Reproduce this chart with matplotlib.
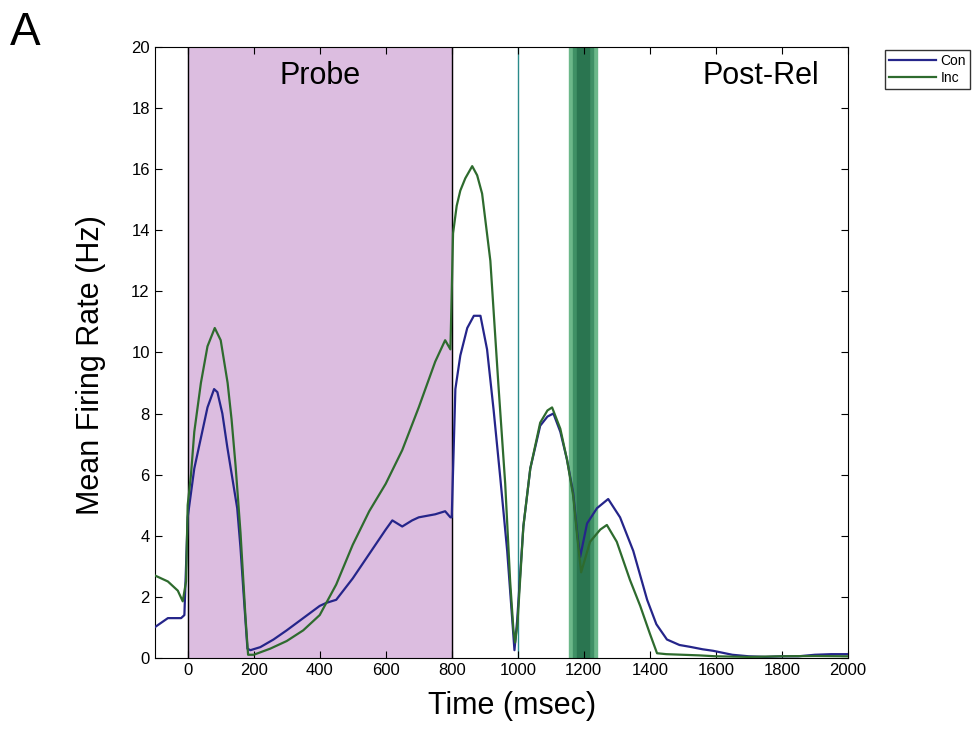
import numpy as np
import matplotlib
matplotlib.use("Agg")
import matplotlib.pyplot as plt

plt.rcParams['font.family'] = ['Liberation Sans', 'DejaVu Sans']

# ---- data ----
t_con = [-100, -60, -20, -10, 0, 10, 20, 40, 60, 80, 90, 105, 120, 135, 150, 160, 170, 181, 190,
         220, 260, 300, 350, 400, 420, 450, 500, 550, 600, 620, 650, 680, 700, 750, 780,
         796, 800, 811, 826, 847, 867, 887, 907, 927, 947, 968, 983, 990, 998, 1017,
         1038, 1068, 1090, 1108, 1129, 1149, 1168, 1180, 1189, 1210, 1240, 1274,
         1310, 1350, 1392, 1420, 1452, 1490, 1522, 1560, 1592, 1650, 1700, 1750,
         1800, 1850, 1900, 1950, 2000]
con = [1.0, 1.3, 1.3, 1.4, 4.6, 5.4, 6.2, 7.2, 8.2, 8.8, 8.7, 8.0, 6.9, 5.9, 4.9, 3.6, 2.0, 0.3, 0.25,
       0.35, 0.6, 0.9, 1.3, 1.7, 1.8, 1.9, 2.6, 3.4, 4.2, 4.5, 4.3, 4.5, 4.6, 4.7, 4.8,
       4.6, 4.6, 8.8, 9.9, 10.8, 11.2, 11.2, 10.1, 8.1, 5.9, 3.5, 1.3, 0.25, 1.2, 4.3,
       6.2, 7.6, 7.9, 8.0, 7.4, 6.5, 5.4, 4.1, 3.3, 4.4, 4.9, 5.2,
       4.6, 3.5, 1.9, 1.1, 0.6, 0.42, 0.36, 0.28, 0.23, 0.1, 0.05, 0.03,
       0.05, 0.05, 0.1, 0.12, 0.12]

t_inc = [-100, -60, -30, -15, -5, 0, 10, 20, 40, 60, 82, 100, 121, 133, 145, 160, 175, 183, 200,
         250, 300, 350, 400, 420, 450, 500, 550, 600, 650, 700, 750, 780, 796, 804,
         815, 826, 841, 862, 877, 892, 917, 941, 962, 977, 987, 992, 999, 1017, 1038, 1068,
         1090, 1104, 1129, 1149, 1168, 1180, 1192, 1219, 1250, 1270, 1300, 1340,
         1371, 1400, 1422, 1450, 1500, 1550, 1600, 1700, 1800, 1900, 2000]
inc = [2.7, 2.5, 2.2, 1.85, 2.5, 5.0, 6.0, 7.4, 9.0, 10.2, 10.8, 10.4, 9.0, 7.8, 6.3, 4.1, 1.35, 0.1, 0.1,
       0.3, 0.55, 0.9, 1.4, 1.8, 2.4, 3.7, 4.8, 5.7, 6.8, 8.2, 9.7, 10.4, 10.1, 13.9,
       14.8, 15.3, 15.7, 16.1, 15.8, 15.2, 13.0, 9.0, 5.7, 2.5, 0.9, 0.5, 1.1, 4.3, 6.2, 7.7,
       8.1, 8.2, 7.5, 6.5, 5.3, 4.0, 2.8, 3.8, 4.2, 4.35, 3.8, 2.55,
       1.7, 0.8, 0.15, 0.12, 0.1, 0.08, 0.05, 0.03, 0.05, 0.06, 0.05]

probe_span = (0, 800)
marker_t = 1000
band_span = (1155, 1240)
xticks = list(range(0, 2001, 200))
yticks = list(range(0, 21, 2))

fig = plt.figure(figsize=(9.79, 7.35), dpi=100)
ax = fig.add_axes([0.158, 0.105, 0.708, 0.831])

ax.axvspan(*probe_span, color='#dcbde0', zorder=0)
ax.axvline(probe_span[0], color='k', lw=1, zorder=1)
ax.axvline(probe_span[1], color='k', lw=1, zorder=1)
ax.axvline(marker_t, color='#2a8a8a', lw=1, zorder=1)
ax.axvspan(*band_span, color='#6cb88a', zorder=0)
ax.axvspan(band_span[0] + 12, band_span[1] - 12, color='#3f9065', zorder=0)
ax.axvspan(band_span[0] + 25, band_span[1] - 25, color='#2a7550', zorder=0)

ax.plot(t_con, con, color='#25258a', lw=1.6, label='Con', zorder=3)
ax.plot(t_inc, inc, color='#2e6b2e', lw=1.6, label='Inc', zorder=3)

ax.set_xlim(-100, 2000)
ax.set_ylim(0, 20)
ax.set_xticks(xticks)
ax.set_yticks(yticks)
ax.tick_params(direction='in', top=True, right=True, labelsize=12, length=5)
ax.set_xlabel('Time (msec)', fontsize=22, labelpad=10)
ax.set_ylabel('Mean Firing Rate (Hz)', fontsize=22)
ax.xaxis.set_label_coords(0.515, -0.055)
ax.yaxis.set_label_coords(-0.07, 0.48)

ax.text(400, 19.05, 'Probe', fontsize=22, ha='center', va='center')
ax.text(1737, 19.05, 'Post-Rel', fontsize=22, ha='center', va='center')
fig.text(0.01, 0.955, 'A', fontsize=33, va='center')

fig.legend(loc='upper left', bbox_to_anchor=(0.897, 0.942), fontsize=10,
           frameon=True, fancybox=False, edgecolor='k', handlelength=3.4,
           handletextpad=0.3, borderpad=0.3, labelspacing=0.2)

fig.savefig('out.png', dpi=100)
